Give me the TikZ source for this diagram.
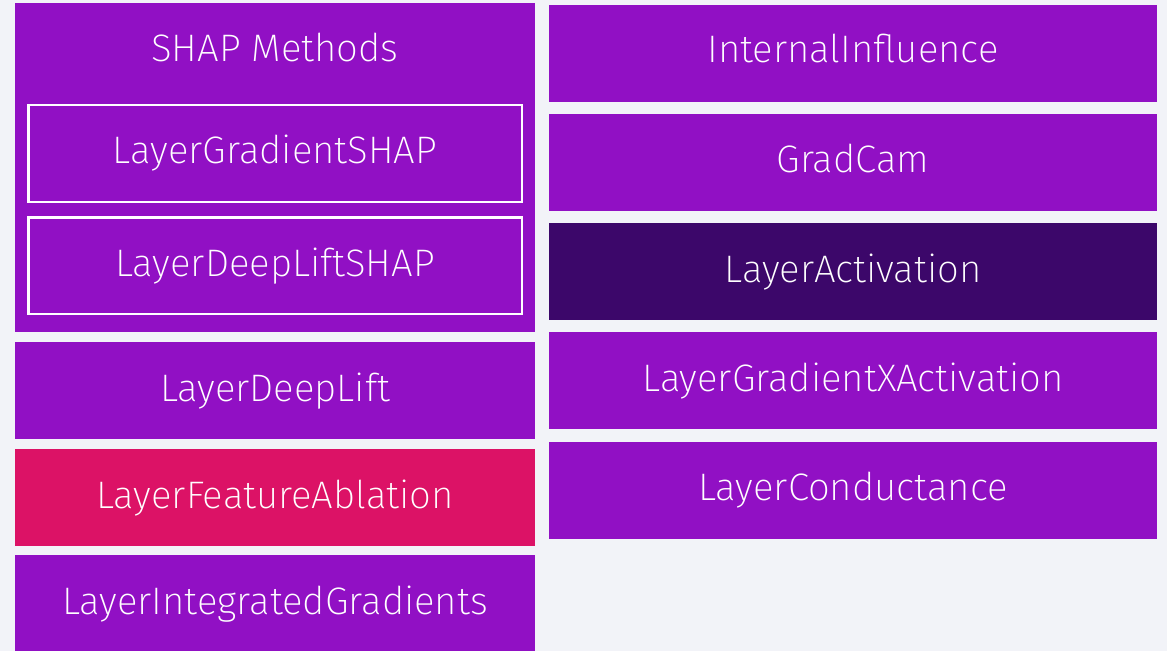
\documentclass[tikz,border=0pt]{standalone}
\usepackage{fontspec}
\IfFontExistsTF{Fira Sans ExtraLight}
  {\setmainfont{Fira Sans ExtraLight}}
  {\IfFontExistsTF{Fira Sans Light}{\setmainfont{Fira Sans Light}}{\setmainfont{Lato}}}
\definecolor{pagebg}{HTML}{F2F3F8}
\definecolor{violet}{HTML}{9110C4}
\definecolor{deepviolet}{HTML}{3C076A}
\definecolor{rose}{HTML}{DC1266}
\tikzset{
  tile/.style={fill=violet, draw=none},
  label/.style={anchor=base, text=white, inner sep=0pt,
    font=\fontsize{38.5}{44}\selectfont},
  frame/.style={draw=white, line width=2.5bp},
}
\begin{document}
\begin{tikzpicture}[x=1bp, y=-1bp]
  \fill[pagebg] (0,0) rectangle (1167,651);
  \useasboundingbox (0,0) rectangle (1167,651);

  % left column
  \fill[tile] (15,3) rectangle (535,332);
  \node[label] (shap) at (275,62) {SHAP Methods};
  \draw[frame] (28.25,105.25) rectangle (522,202);
  \node[label] (lgs) at (275,164) {LayerGradientSHAP};
  \draw[frame] (28.25,217.25) rectangle (522,314);
  \node[label] (ldls) at (275,276) {LayerDeepLiftSHAP};

  \fill[tile] (15,342) rectangle (535,439);
  \node[label] (ldl) at (275,401) {LayerDeepLift};
  \fill[tile, fill=rose] (15,449) rectangle (535,546);
  \node[label] (lfa) at (275,508) {LayerFeatureAblation};
  \fill[tile] (15,555) rectangle (535,651);
  \node[label] (lig) at (275,614) {LayerIntegratedGradients};

  % right column
  \fill[tile] (549,5) rectangle (1157,102);
  \node[label] (ii) at (853,63) {InternalInfluence};
  \fill[tile] (549,114) rectangle (1157,211);
  \node[label] (gc) at (853,173) {GradCam};
  \fill[tile, fill=deepviolet] (549,223) rectangle (1157,320);
  \node[label] (la) at (853,282) {LayerActivation};
  \fill[tile] (549,332) rectangle (1157,429);
  \node[label] (lgxa) at (853,391) {LayerGradientXActivation};
  \fill[tile] (549,442) rectangle (1157,539);
  \node[label] (lc) at (853,500) {LayerConductance};
\end{tikzpicture}
\end{document}
